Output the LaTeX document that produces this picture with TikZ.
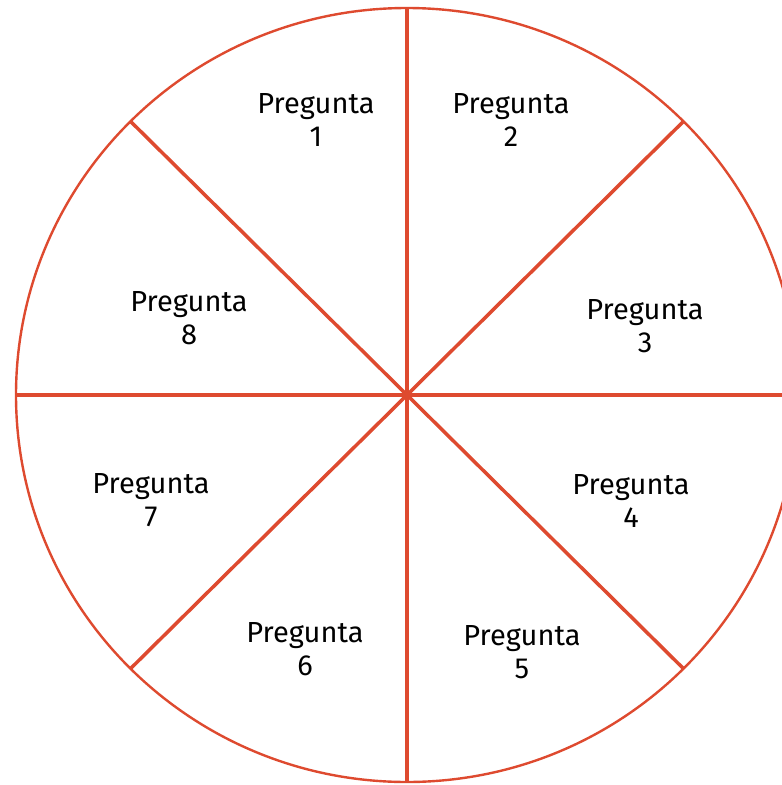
\documentclass[tikz,border=0pt]{standalone}
\usepackage{fontspec}
\setmainfont{Fira Sans}
\definecolor{wheelred}{HTML}{DE4A2F}

\begin{document}
\begin{tikzpicture}[x=1pt, y=-1pt, every node/.style={font=\fontsize{29}{33}\selectfont, align=center}]
  \clip (0,0) rectangle (782,785);
  % Wheel of questions
  \coordinate (c) at (407,395);
  \draw[wheelred, line width=2.4pt] (c) ellipse [x radius=391, y radius=387];
  \foreach \a in {0,45,...,315}
    \path (c) ++(\a:391 and 387) coordinate (r\a);
  \foreach \a in {0,45,...,315}
    \draw[wheelred, line width=3.5pt] (c) -- (r\a);

  % Labels
  \node (q1) at (316,120) {Pregunta\\1};
  \node (q2) at (511,120) {Pregunta\\2};
  \node (q3) at (645,326) {Pregunta\\3};
  \node (q4) at (631,501) {Pregunta\\4};
  \node (q5) at (522,652) {Pregunta\\5};
  \node (q6) at (305,649) {Pregunta\\6};
  \node (q7) at (151,500) {Pregunta\\7};
  \node (q8) at (189,318) {Pregunta\\8};
\end{tikzpicture}
\end{document}
